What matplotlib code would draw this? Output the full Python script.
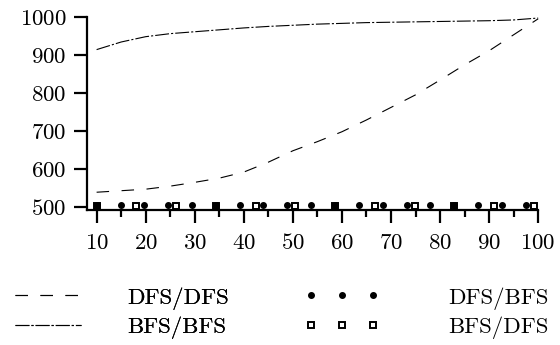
import matplotlib
matplotlib.use("Agg")
import matplotlib.pyplot as plt

plt.rcParams['font.family'] = ['cmr10', 'DejaVu Serif']
plt.rcParams['axes.formatter.use_mathtext'] = True
plt.rcParams['lines.scale_dashes'] = False

# curves, sampled every 5
sizes = [10, 15, 20, 25, 30, 35, 40, 45, 50, 55, 60, 65, 70, 75, 80, 85, 90, 95, 100]
dfs_dfs = [539, 543, 547, 555, 565, 576, 592, 618, 648, 672, 698, 729, 762, 795,
           834, 874, 911, 953, 995]
bfs_bfs = [914, 934, 948, 956, 961, 966, 971, 975, 978, 981, 983, 985, 986, 987,
           988, 989, 990, 992, 997]

# point series near the bottom
dfs_bfs_x = [10, 14.9, 19.7, 24.6, 29.4, 34.3, 39.2, 44.0, 48.9, 53.7, 58.6, 63.5,
             68.3, 73.2, 78.0, 82.9, 87.8, 92.6, 97.5]
dfs_bfs_y = [506] * len(dfs_bfs_x)
bfs_dfs_x = [10, 18.1, 26.2, 34.3, 42.4, 50.5, 58.6, 66.7, 74.8, 82.9, 91.0, 99.1]
bfs_dfs_y = [502] * len(bfs_dfs_x)

fs = 16.5
fig = plt.figure(figsize=(5.6, 3.45), dpi=100)
ax = fig.add_axes([0.155, 0.391, 0.806, 0.560])

l1, = ax.plot(sizes, dfs_dfs, color='black', lw=0.8, dashes=(9, 9), clip_on=False)
l2, = ax.plot(sizes, bfs_bfs, color='black', lw=0.8, dashes=(10, 1.5, 1.5, 1.5),
              clip_on=False)
p2, = ax.plot(bfs_dfs_x, bfs_dfs_y, ls='none', marker='s', ms=4.5, mfc='white',
              mec='black', mew=1.4, clip_on=False)
p1, = ax.plot(dfs_bfs_x, dfs_bfs_y, ls='none', marker='o', ms=4, color='black',
              clip_on=False)

ax.set_xlim(8, 100)
ax.set_ylim(492, 1000)
ax.set_xticks(range(10, 101, 10))
ax.set_xticks(range(15, 100, 10), minor=True)
ax.set_yticks(range(500, 1001, 100))
for s in ['top', 'right']:
    ax.spines[s].set_visible(False)
for s in ['left', 'bottom']:
    ax.spines[s].set_linewidth(1.6)
ax.tick_params(axis='x', which='major', length=9, width=1.6, pad=7.5, labelsize=fs)
ax.tick_params(axis='x', which='minor', length=5, width=1.6)
ax.tick_params(axis='y', length=9.5, width=1.6, pad=5, labelsize=fs)

leg1 = fig.legend([l1, l2], ['DFS/DFS', 'BFS/BFS'], loc='upper left',
                  bbox_to_anchor=(15 / 560, 1 - 287 / 345), frameon=False,
                  fontsize=fs, handlelength=2.88, handletextpad=2.0,
                  borderpad=0, borderaxespad=0, labelspacing=0.3)
leg2 = fig.legend([p1, p2], ['DFS/BFS', 'BFS/DFS'], loc='upper left',
                  bbox_to_anchor=(304 / 560, 1 - 287 / 345), frameon=False,
                  fontsize=fs, handlelength=3.3, handletextpad=3.0, numpoints=3,
                  borderpad=0, borderaxespad=0, labelspacing=0.3)
fig.add_artist(leg1)

fig.savefig('out.png', dpi=100)
